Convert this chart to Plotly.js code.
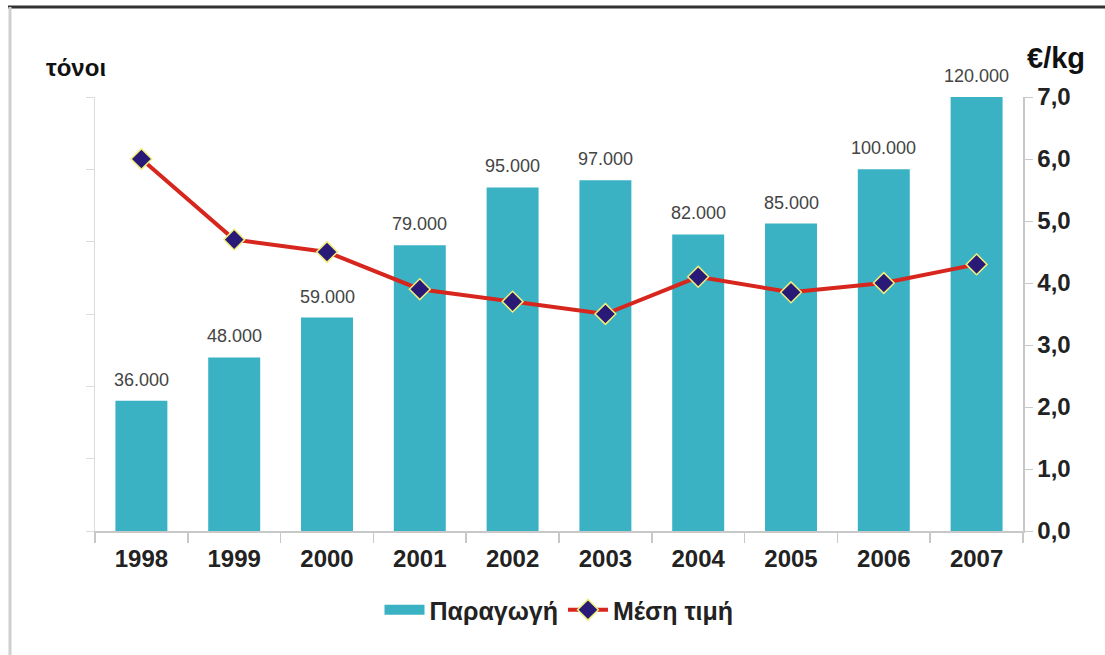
<!DOCTYPE html>
<html>
<head>
<meta charset="utf-8">
<script src="https://cdn.plot.ly/plotly-3.0.1.min.js"></script>
<style>
html,body{margin:0;padding:0;background:#fff;}
#chart{width:1105px;height:655px;}
</style>
</head>
<body>
<div id="chart"></div>
<script>
// ---- data ----
const years = ["1998","1999","2000","2001","2002","2003","2004","2005","2006","2007"];
const production = [36000, 48000, 59000, 79000, 95000, 97000, 82000, 85000, 100000, 120000];
const avgPrice = [6.0, 4.7, 4.5, 3.9, 3.7, 3.5, 4.1, 3.85, 4.0, 4.3];
const seriesNames = ["Παραγωγή", "Μέση τιμή"];
const leftUnit = "τόνοι";
const rightUnit = "€/kg";

// category positions derived from the categories
const xi = years.map((_, i) => i);
const bounds = years.map((_, i) => i + 0.5).concat([-0.5]);

// ---- geometry helpers (plot area in pixels) ----
const W = 1105, H = 655;
const M = {l: 95, r: 82, t: 97, b: 124};
const PW = W - M.l - M.r, PH = H - M.t - M.b;
const px = x => (x - M.l) / PW;
const py = y => (H - M.b - y) / PH;

function fmt(v){ return String(v).replace(/\B(?=(\d{3})+(?!\d))/g, "."); }

const FONT = "Liberation Sans, Arial, sans-serif";
const TEAL = "#3ab2c4";

const bars = {
  type: "bar", x: xi, y: production, name: seriesNames[0], showlegend: false,
  marker: {color: TEAL}, width: 0.56
};
// legend entry for the bars (wide swatch like the original)
const barLegend = {
  type: "scatter", mode: "lines", x: [null], y: [null], name: seriesNames[0],
  line: {color: TEAL, width: 14}, legendrank: 1
};
const line = {
  type: "scatter", mode: "lines+markers", x: xi, y: avgPrice, yaxis: "y2",
  name: seriesNames[1], legendrank: 2,
  line: {color: "#d6261d", width: 4},
  marker: {symbol: "diamond", size: 16, color: "#2a1a78", line: {color: "#f2ee7a", width: 1.5}}
};

const annotations = xi.map((x, i) => ({
  x: x, y: production[i], xref: "x", yref: "y",
  text: fmt(production[i]), showarrow: false, yanchor: "bottom", yshift: 9,
  font: {family: FONT, size: 18, color: "#444"}
}));
annotations.push({
  xref: "paper", yref: "paper", x: px(76), y: py(68), xanchor: "center", yanchor: "middle",
  text: "<b>" + leftUnit + "</b>", showarrow: false, font: {family: FONT, size: 24, color: "#111"}
});
annotations.push({
  xref: "paper", yref: "paper", x: px(1056), y: py(58), xanchor: "center", yanchor: "middle",
  text: "<b>" + rightUnit + "</b>", showarrow: false, font: {family: FONT, size: 29, color: "#111"}
});

const shapes = [
  {type: "line", xref: "paper", yref: "paper", x0: px(8), x1: px(1105), y0: py(7), y1: py(7),
   line: {color: "#333", width: 3}},
  {type: "line", xref: "paper", yref: "paper", x0: px(10), x1: px(10), y0: py(7), y1: py(655),
   line: {color: "#cfcfcf", width: 3}}
];

const layout = {
  width: W, height: H, margin: M,
  paper_bgcolor: "#fff", plot_bgcolor: "#fff",
  separators: ",.",
  showlegend: true,
  font: {family: FONT, color: "#222"},
  xaxis: {
    range: [-0.5, years.length - 0.5], tickmode: "array", tickvals: xi, ticktext: years,
    showline: true, linecolor: "#c8c8c8", linewidth: 1.5,
    ticks: "", ticklabelstandoff: 6,
    minor: {tickmode: "array", tickvals: bounds, ticks: "outside", ticklen: 10, tickcolor: "#c8c8c8", tickwidth: 1.5, showgrid: false},
    showgrid: false, zeroline: false,
    tickfont: {family: FONT, size: 24, color: "#222", weight: "bold"}
  },
  yaxis: {
    range: [0, 120000], dtick: 20000, showticklabels: false,
    showline: true, linecolor: "#dcdcdc", linewidth: 1.5,
    ticks: "outside", ticklen: 8, tickcolor: "#dcdcdc",
    showgrid: false, zeroline: false
  },
  yaxis2: {
    overlaying: "y", side: "right", range: [0, 7], dtick: 1, tickformat: ".1f",
    showline: true, linecolor: "#c8c8c8", linewidth: 1.5,
    ticks: "outside", ticklen: 8, tickcolor: "#c8c8c8",
    showgrid: false, zeroline: false,
    tickfont: {family: FONT, size: 24, color: "#222", weight: "bold"}
  },
  legend: {
    orientation: "h", x: 0.5, xanchor: "center", y: py(610), yanchor: "middle",
    font: {family: FONT, size: 25, color: "#222", weight: "bold"},
    bgcolor: "rgba(0,0,0,0)", itemwidth: 40, traceorder: "normal"
  },
  annotations: annotations,
  shapes: shapes
};

Plotly.newPlot("chart", [bars, barLegend, line], layout, {displayModeBar: false, staticPlot: true});
</script>
</body>
</html>
